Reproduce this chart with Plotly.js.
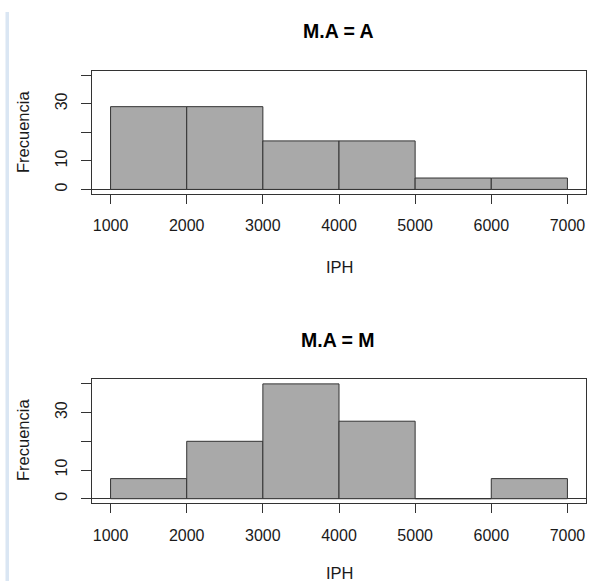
<!DOCTYPE html>
<html>
<head>
<meta charset="utf-8">
<script src="https://cdn.plot.ly/plotly-3.0.1.min.js"></script>
<style>html,body{margin:0;padding:0;background:#fff;}#chart{width:589px;height:581px;}</style>
</head>
<body>
<div id="chart"></div>
<script>
// Bin edges (IPH) and counts per panel
const binEdges = [1000, 2000, 3000, 4000, 5000, 6000, 7000];
const countsA = [29, 29, 17, 17, 4, 4];
const countsM = [7, 20, 40, 27, 0, 7];
const panelTitles = ["M.A = A", "M.A = M"];
const xTickVals = [1000, 2000, 3000, 4000, 5000, 6000, 7000];
const yTickVals = [0, 10, 20, 30, 40];
const yTickText = ["0", "10", "", "30", ""];
const xLabel = "IPH";
const yLabel = "Frecuencia";

const mids = binEdges.slice(0, -1).map((e, i) => (e + binEdges[i + 1]) / 2);
const widths = binEdges.slice(0, -1).map((e, i) => binEdges[i + 1] - e);

const W = 589, H = 581;
const px = v => v / W;
const py = v => 1 - v / H;

const barStyle = { color: "#A9A9A9", line: { color: "#333333", width: 1 } };
const traces = [
  { type: "bar", x: mids, y: countsA, width: widths, marker: barStyle, xaxis: "x", yaxis: "y", hoverinfo: "x+y" },
  { type: "bar", x: mids, y: countsM, width: widths, marker: barStyle, xaxis: "x2", yaxis: "y2", hoverinfo: "x+y" }
];

const font = { family: "Liberation Sans, Arial, sans-serif", size: 16, color: "#1a1a1a" };
const labFont = { family: "Liberation Sans, Arial, sans-serif", size: 16.5, color: "#1a1a1a" };
const xDom = [px(92.3), px(585.7)];
function xAxis(anchor) {
  return {
    domain: xDom, anchor: anchor, range: [760, 7240], tickvals: xTickVals,
    ticks: "outside", ticklen: 9, tickcolor: "#333", tickwidth: 1,
    showline: true, mirror: true, linecolor: "#333", linewidth: 1,
    showgrid: false, zeroline: false, tickfont: font, ticklabelstandoff: 8, fixedrange: true
  };
}
function yAxis(anchor, top, bottom) {
  return {
    domain: [py(bottom), py(top)], anchor: anchor, range: [-1.6, 41.6],
    tickvals: yTickVals, ticktext: yTickText, tickangle: -90,
    ticks: "outside", ticklen: 10, tickcolor: "#333", tickwidth: 1,
    showline: true, mirror: true, linecolor: "#333", linewidth: 1,
    showgrid: false, zeroline: true, zerolinecolor: "#333", zerolinewidth: 1,
    tickfont: font, ticklabelstandoff: 8, fixedrange: true
  };
}

const ann = (text, x, y, opts) => Object.assign({
  text: text, xref: "paper", yref: "paper", x: px(x), y: py(y),
  xanchor: "center", yanchor: "middle", showarrow: false, font: labFont
}, opts || {});

const titleFont = { family: "Liberation Sans, Arial, sans-serif", size: 19.5, color: "#000" };
const layout = {
  width: W, height: H, margin: { l: 0, r: 0, t: 0, b: 0 },
  paper_bgcolor: "#fff", plot_bgcolor: "#fff", showlegend: false, bargap: 0,
  xaxis: xAxis("y"), yaxis: yAxis("x", 70.7, 194),
  xaxis2: xAxis("y2"), yaxis2: yAxis("x2", 379.3, 503.3),
  annotations: [
    ann("<b>" + panelTitles[0] + "</b>", 338, 31, { font: titleFont }),
    ann(xLabel, 340, 267),
    ann(yLabel, 23, 132, { textangle: -90 }),
    ann("<b>" + panelTitles[1] + "</b>", 338, 340, { font: titleFont }),
    ann(xLabel, 340, 573),
    ann(yLabel, 23, 440, { textangle: -90 })
  ],
  shapes: [
    { type: "rect", xref: "paper", yref: "paper", x0: px(5.5), x1: px(9), y0: 0, y1: py(12),
      fillcolor: "#DAE6F3", line: { width: 0 } }
  ]
};

Plotly.newPlot("chart", traces, layout, { displayModeBar: false, staticPlot: true });
</script>
</body>
</html>
